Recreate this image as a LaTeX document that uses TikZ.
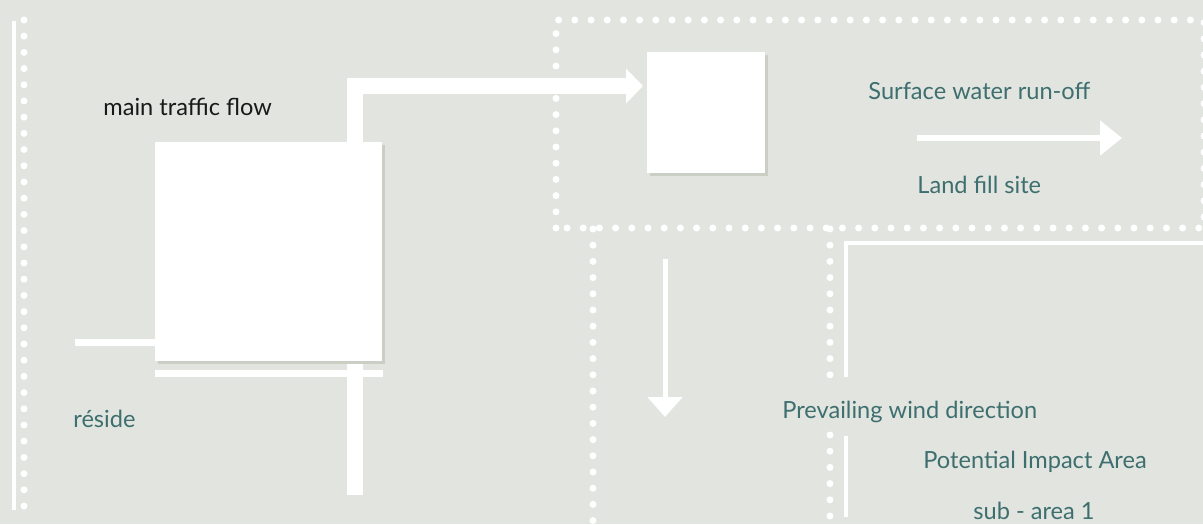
\documentclass[tikz,border=0pt]{standalone}
\usepackage{fontspec}
\setmainfont{Lato}
\usepackage{xcolor}
\usetikzlibrary{arrows.meta,shadows}
\definecolor{ground}{HTML}{E2E4DF}
\definecolor{shade}{HTML}{CBCEC4}
\definecolor{sitetext}{HTML}{3D6F6F}

\begin{document}
\begin{tikzpicture}[x=0.5pt,y=-0.5pt,
  dots/.style={white,line width=3.5pt,line cap=round,dash pattern=on 0pt off 8.1pt},
  rule/.style={white,line width=2pt},
  road/.style={white,line width=8pt,line join=miter},
  block/.style={fill=white,inner sep=0pt,anchor=north west,
    drop shadow={shadow xshift=1.5pt,shadow yshift=-1.5pt,fill=shade,opacity=1}},
  areatext/.style={text=sitetext,inner sep=0pt,anchor=base west,font=\fontsize{11.8}{14}\selectfont}]
  \clip (0,0) rectangle (1203,524);
  \fill[ground] (0,0) rectangle (1203,524);
  \draw[rule] (14,21) -- (14,510);
  \draw[dots] (24,20) -- (24,516);
  \draw[dots] (556,228) -- (556,20) -- (1204,20) -- (1204,228) -- cycle;
  \draw[dots] (593,229) -- (593,524);
  \draw[dots] (830,229) -- (830,377);
  \draw[dots] (830,435) -- (830,524);
  \draw[rule,line width=2.25pt] (846,377) -- (846,243) -- (1210,243);
  \draw[rule,line width=2.25pt] (846,436) -- (846,517);
  \coordinate (roadend) at (355,495);
  \coordinate (bend) at (355,86);
  \coordinate (westend) at (75,342);
  \draw[road,-{Triangle[length=8.5pt,width=17pt]}] (roadend) -- (bend) -- (643,86) coordinate (gate);
  \node[block,minimum width=113.5pt,minimum height=109.5pt] (plant) at (155,142) {};
  \node[block,minimum width=59pt,minimum height=60.5pt] (site) at (647,52) {};
  \draw[white,line width=3.5pt] (westend) -- (westend -| plant.west);
  \draw[white,line width=3.5pt] (155,373) -- (383,373);
  \coordinate (runoff) at (917,138);
  \coordinate (wind) at (665,259);
  \draw[white,line width=3pt,-{Triangle[length=11pt,width=17pt]}] (runoff) -- ++(205,0);
  \draw[white,line width=2.5pt,-{Triangle[length=10pt,width=17pt]}] (wind) -- ++(0,158);
  \node[areatext,text=black!90] (traffic) at (103,115) {main traffic flow};
  \node[areatext] (resid) at (73,427) {réside};
  \node[areatext] (water) at (868,99) {Surface water run-off};
  \node[areatext] (landfill) at (917,193) {Land fill site};
  \node[areatext] (prevail) at (782,418) {Prevailing wind direction};
  \node[areatext] (impact) at (923,468) {Potential Impact Area};
  \node[areatext] (subarea) at (973,519) {sub - area 1};
\end{tikzpicture}
\end{document}
